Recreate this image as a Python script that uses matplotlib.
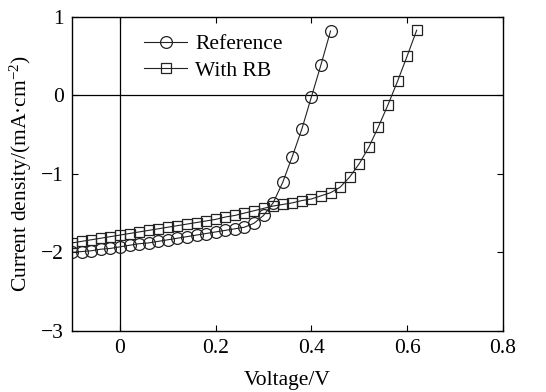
import numpy as np
import matplotlib
matplotlib.use("Agg")
import matplotlib.pyplot as plt

plt.rcParams['font.family'] = ['Liberation Serif', 'DejaVu Serif']
plt.rcParams['mathtext.fontset'] = 'custom'
plt.rcParams['mathtext.rm'] = 'Liberation Serif'
plt.rcParams['mathtext.it'] = 'Liberation Serif:italic'

# Reference series
v_ref = [-0.10, -0.08, -0.06, -0.04, -0.02, 0.00, 0.02, 0.04, 0.06, 0.08,
         0.10, 0.12, 0.14, 0.16, 0.18, 0.20, 0.22, 0.24, 0.26, 0.28,
         0.30, 0.32, 0.34, 0.36, 0.38, 0.40, 0.42, 0.44]
j_ref = [-2.00, -1.99, -1.98, -1.96, -1.95, -1.93, -1.91, -1.89, -1.88, -1.86,
         -1.84, -1.82, -1.80, -1.78, -1.76, -1.74, -1.72, -1.70, -1.68, -1.63,
         -1.53, -1.37, -1.11, -0.78, -0.43, -0.02, 0.39, 0.82]

# With RB series
v_rb = [-0.10, -0.08, -0.06, -0.04, -0.02, 0.00, 0.02, 0.04, 0.06, 0.08,
        0.10, 0.12, 0.14, 0.16, 0.18, 0.20, 0.22, 0.24, 0.26, 0.28,
        0.30, 0.32, 0.34, 0.36, 0.38, 0.40, 0.42, 0.44, 0.46, 0.48,
        0.50, 0.52, 0.54, 0.56, 0.58, 0.60, 0.62]
j_rb = [-1.88, -1.86, -1.84, -1.82, -1.80, -1.78, -1.76, -1.74, -1.72, -1.70,
        -1.68, -1.66, -1.64, -1.62, -1.60, -1.58, -1.55, -1.53, -1.50, -1.47,
        -1.44, -1.41, -1.39, -1.37, -1.34, -1.32, -1.28, -1.24, -1.17, -1.04,
        -0.87, -0.66, -0.40, -0.12, 0.18, 0.50, 0.83]

x_ticks = [0, 0.2, 0.4, 0.6, 0.8]
x_tick_labels = ['0', '0.2', '0.4', '0.6', '0.8']
y_ticks = [-3, -2, -1, 0, 1]
y_tick_labels = ['\u22123', '\u22122', '\u22121', '0', '1']

fs = 15.5
fig = plt.figure(figsize=(5.46, 3.92), dpi=100)
ax = fig.add_axes([0.132, 0.156, 0.789, 0.801])

ec = '#222222'
ax.plot(v_ref, j_ref, '-', color=ec, lw=0.8, marker='o', ms=8.5,
        mfc='none', mec=ec, mew=0.9, label='Reference')
ax.plot(v_rb, j_rb, '-', color=ec, lw=0.8, marker='s', ms=7.5,
        mfc='none', mec=ec, mew=0.9, label='With RB')

ax.axhline(0, color='black', lw=0.9, zorder=0)
ax.axvline(0, color='black', lw=0.9, zorder=0)

ax.set_xlim(-0.1, 0.8)
ax.set_ylim(-3, 1)
ax.set_xticks(x_ticks)
ax.set_xticklabels(x_tick_labels)
ax.set_yticks(y_ticks)
ax.set_yticklabels(y_tick_labels)
ax.tick_params(direction='in', top=True, right=True, length=4, width=0.8,
               labelsize=fs, pad=6)
for s in ax.spines.values():
    s.set_linewidth(1.0)

ax.set_xlabel('Voltage/V', fontsize=fs, labelpad=9)
ax.set_ylabel('Current density/(mA\u00b7cm$^{\\mathrm{\u22122}}$)', fontsize=fs, labelpad=5)

ax.legend(loc='upper left', bbox_to_anchor=(0.133, 0.993), frameon=False,
          fontsize=fs, handlelength=2.0, handletextpad=0.35, labelspacing=0.3,
          borderaxespad=0.3, borderpad=0.4)

fig.savefig('out.png', dpi=100)
